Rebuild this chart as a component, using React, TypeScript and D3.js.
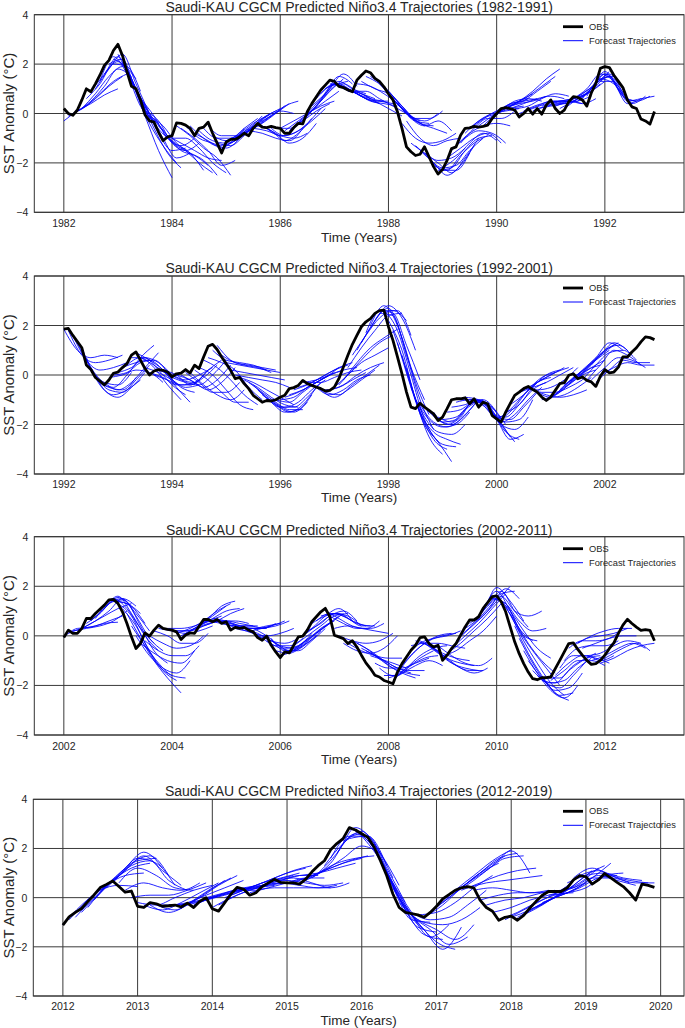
import React from 'react';
import * as d3 from 'd3';

// ---------- DATA ----------
const OBS_1982 = [0.2,0.0,-0.07,0.14,0.55,1.0,0.88,1.2,1.55,1.95,2.15,2.55,2.8,2.35,1.7,1.1,1.0,0.55,-0.05,-0.3,-0.35,-0.75,-1.1,-0.95,
-0.9,-0.38,-0.4,-0.47,-0.6,-0.9,-0.6,-0.55,-0.35,-0.8,-1.2,-1.6,-1.15,-1.05,-1.05,-0.95,-0.8,-0.9,-0.6,-0.4,-0.55,-0.57,-0.52,-0.57,
-0.6,-0.8,-0.8,-0.57,-0.4,-0.42,0.07,0.4,0.68,0.95,1.15,1.35,1.3,1.1,1.05,0.95,0.88,1.35,1.55,1.72,1.65,1.42,1.3,1.08,
0.8,0.55,0.07,-0.6,-1.35,-1.55,-1.7,-1.65,-1.35,-1.75,-2.15,-2.45,-2.27,-1.9,-1.42,-1.35,-0.88,-0.6,-0.58,-0.52,-0.55,-0.52,-0.47,-0.2,
0.0,0.2,0.24,0.2,0.14,-0.14,0.0,0.2,-0.03,0.2,-0.03,0.34,0.55,0.2,0.0,0.14,0.48,0.68,0.65,0.55,0.3,0.84,1.22,1.83,
1.9,1.86,1.55,1.3,1.05,0.55,0.27,0.2,-0.22,-0.3,-0.43,0.08];

const OBS_1992 = [1.85,1.88,1.6,1.35,1.1,0.4,0.22,-0.1,-0.25,-0.4,-0.2,0.07,0.12,0.3,0.46,0.8,0.93,0.6,0.26,0.0,0.16,0.22,0.19,0.12,
-0.08,0.05,0.08,0.22,0.08,0.4,0.26,0.73,1.16,1.24,1.03,0.73,0.46,0.19,-0.15,-0.1,-0.35,-0.55,-0.82,-0.96,-1.1,-1.03,-1.05,-1.0,
-0.9,-0.82,-0.55,-0.51,-0.42,-0.22,-0.35,-0.42,-0.49,-0.55,-0.65,-0.62,-0.49,-0.15,0.32,0.8,1.24,1.6,1.95,2.15,2.28,2.49,2.6,2.62,
1.95,1.4,0.73,0.05,-0.69,-1.3,-1.36,-1.14,-1.3,-1.43,-1.57,-1.84,-1.7,-1.36,-1.0,-0.96,-0.96,-0.92,-1.16,-0.96,-1.3,-1.1,-1.16,-1.64,
-1.77,-1.9,-1.5,-1.16,-0.82,-0.69,-0.55,-0.46,-0.59,-0.69,-0.89,-1.03,-0.89,-0.62,-0.35,-0.31,-0.01,0.05,-0.15,-0.08,-0.22,-0.28,-0.46,-0.05,
0.22,0.09,0.12,0.32,0.73,0.73,0.93,1.1,1.34,1.54,1.51,1.43];

const OBS_2002 = [-0.07,0.23,0.1,0.1,0.3,0.7,0.7,0.9,1.07,1.24,1.45,1.47,1.31,0.97,0.5,-0.04,-0.51,-0.31,0.12,-0.01,0.23,0.43,0.3,0.26,
0.23,0.16,-0.15,0.03,0.12,0.1,0.39,0.66,0.66,0.57,0.66,0.5,0.57,0.23,0.34,0.3,0.34,0.23,0.16,-0.07,-0.18,-0.01,-0.38,-0.65,
-0.88,-0.65,-0.69,-0.38,-0.04,-0.01,0.23,0.57,0.77,0.97,1.11,0.77,0.03,-0.04,-0.11,-0.31,-0.2,-0.45,-0.78,-1.09,-1.32,-1.59,-1.66,-1.8,
-1.86,-1.93,-1.46,-1.12,-0.85,-0.58,-0.38,-0.07,-0.04,-0.31,-0.45,-0.38,-0.99,-0.78,-0.51,-0.31,0.03,0.36,0.64,0.64,0.77,1.11,1.34,1.58,
1.61,1.38,0.97,0.36,-0.24,-0.72,-1.12,-1.46,-1.73,-1.77,-1.69,-1.69,-1.66,-1.32,-0.99,-0.65,-0.31,-0.28,-0.55,-0.78,-0.99,-1.15,-1.12,-0.99,
-0.78,-0.51,-0.28,0.1,0.43,0.67,0.5,0.35,0.22,0.25,0.22,-0.2];

const OBS_2012 = [-1.12,-0.78,-0.6,-0.44,-0.16,0.11,0.41,0.54,0.68,0.45,0.22,0.27,-0.35,-0.4,-0.2,-0.25,-0.35,-0.33,-0.3,-0.38,-0.22,-0.4,-0.15,0.0,
-0.45,-0.55,-0.2,0.15,0.42,0.35,0.1,0.2,0.45,0.6,0.75,0.62,0.6,0.6,0.55,0.75,1.05,1.3,1.5,1.95,2.2,2.4,2.85,2.75,
2.6,2.45,2.05,1.5,0.9,0.15,-0.4,-0.6,-0.65,-0.7,-0.8,-0.6,-0.35,-0.05,0.12,0.3,0.4,0.45,0.4,-0.1,-0.4,-0.55,-0.92,-0.8,
-0.75,-0.92,-0.72,-0.42,-0.15,0.1,0.25,0.25,0.25,0.4,0.72,0.9,0.85,0.55,0.72,0.98,0.8,0.62,0.45,0.2,-0.1,0.55,0.5,0.42];

// forecast trajectories: [launch month index, value at lead 0, 3, 6, 9, 12 months]
const LEADS = [0, 3, 6, 9, 12];

const TRAJ_1982 = [
[0,-0.3,0.1,0.4,0.75,1.0],[1,-0.1,0.2,0.6,1.1,1.5],[2,0.0,0.3,0.8,1.3,1.6],[3,0.1,0.5,1.1,1.8,1.5],
[4,0.2,0.8,1.5,1.9,1.4],[5,0.6,1.2,2.0,1.9,0.9],[6,0.9,1.6,2.3,1.4,0.2],[7,1.0,1.8,2.4,1.2,0.0],
[8,1.3,2.3,1.6,0.3,-0.3],[9,1.6,2.1,1.4,0.1,-0.4],[10,2.0,2.2,0.9,0.0,-0.7],[11,2.2,1.8,0.5,-0.4,-1.0],
[12,2.4,1.3,-0.1,-1.5,-2.6],[13,2.1,0.9,-0.4,-1.3,-2.0],[14,1.8,0.6,-0.6,-1.6,-2.2],[15,1.3,0.3,-0.8,-1.5,-1.4],
[16,1.0,0.0,-1.0,-1.8,-1.6],[17,0.6,-0.1,-1.0,-1.3,-1.0],[18,0.1,-0.3,-1.2,-1.5,-1.2],[19,-0.1,-0.5,-1.2,-1.6,-2.3],
[20,-0.2,-0.9,-1.5,-1.7,-2.1],[21,-0.5,-1.1,-1.5,-2.0,-2.4],[22,-0.8,-1.3,-1.6,-1.9,-2.5],[23,-0.9,-1.2,-1.5,-1.8,-1.9],
[24,-1.0,-1.0,-1.4,-2.0,-2.4],[25,-0.5,-0.9,-1.4,-1.8,-2.5],[26,-0.6,-1.0,-1.5,-2.1,-1.9],[27,-0.5,-1.0,-1.2,-1.4,-1.0],
[28,-0.5,-1.0,-1.3,-1.2,-0.6],[29,-0.8,-1.1,-1.4,-1.0,-0.6],[30,-0.7,-1.1,-1.2,-1.0,-0.5],[31,-0.6,-1.0,-1.0,-0.6,-0.2],
[32,-0.5,-0.9,-0.9,-0.6,-0.1],[33,-0.9,-1.1,-0.8,-0.4,-0.1],[34,-1.2,-1.3,-0.9,-0.4,0.0],[35,-1.4,-1.1,-0.7,-0.2,0.1],
[36,-1.1,-0.9,-0.5,-0.1,0.2],[37,-1.0,-0.8,-0.4,-0.1,0.3],[38,-1.0,-0.7,-0.4,0.0,0.4],[39,-0.9,-0.6,-0.2,0.1,0.0],
[40,-0.8,-0.5,-0.1,0.3,0.5],[41,-0.7,-0.8,-1.0,-1.1,-0.6],[42,-0.6,-0.7,-0.9,-1.0,-0.8],[43,-0.5,-0.7,-1.1,-0.8,-0.2],
[44,-0.5,-0.8,-1.2,-1.0,-0.4],[45,-0.6,-0.9,-0.8,-0.4,0.2],[46,-0.6,-0.9,-0.7,-0.3,0.2],[47,-0.6,-0.6,-0.3,0.1,0.4],
[48,-0.6,-0.3,0.0,0.3,0.5],[49,-0.7,-0.3,0.1,0.5,0.9],[50,-0.7,-0.2,0.3,0.9,1.4],[51,-0.6,-0.1,0.5,1.1,1.3],
[52,-0.4,0.1,0.8,1.5,1.2],[53,-0.3,0.3,1.0,1.6,1.1],[54,0.0,0.6,1.2,1.0,0.7],[55,0.3,0.8,1.3,1.0,0.8],
[56,0.6,1.1,1.2,0.9,0.6],[57,0.8,1.2,1.0,0.8,0.6],[58,1.0,1.2,0.9,0.6,0.4],[59,1.2,1.1,0.8,0.6,0.5],
[60,1.2,1.0,0.7,0.5,0.5],[61,1.1,0.9,0.6,0.5,0.4],[62,1.0,0.8,0.5,0.4,0.3],[63,0.9,0.8,0.5,0.2,-0.1],
[64,0.9,0.9,0.6,0.3,0.0],[65,1.2,1.1,0.8,0.4,-0.2],[66,1.3,1.0,0.8,0.3,-0.3],[67,1.5,1.2,0.7,0.0,-0.3],
[68,1.5,1.1,0.5,-0.1,-0.5],[69,1.4,0.9,0.3,-0.3,-0.4],[70,1.2,0.6,0.0,-0.4,-0.5],[71,1.0,0.4,-0.1,-0.3,0.0],
[72,0.8,0.2,-0.2,-0.2,0.1],[73,0.6,0.0,-0.4,-0.6,-0.8],[74,0.4,-0.2,-0.5,-0.3,-0.7],[75,-0.4,-1.0,-1.2,-1.1,-0.8],
[76,-0.3,-1.0,-1.3,-1.1,-1.0],[77,-1.2,-1.6,-1.9,-1.8,-1.4],[78,-1.3,-1.8,-2.3,-2.3,-1.6],[79,-1.5,-2.0,-2.5,-2.1,-1.3],
[80,-1.6,-2.0,-2.4,-1.8,-1.0],[81,-1.8,-2.2,-2.1,-1.5,-1.0],[82,-2.1,-2.3,-1.7,-1.2,-0.9],[83,-2.3,-2.2,-1.5,-1.0,-0.9],
[84,-2.2,-1.8,-1.2,-0.8,-1.1],[85,-1.8,-1.4,-1.0,-0.8,-1.2],[86,-1.5,-1.0,-0.7,-0.8,-1.2],[87,-1.3,-0.8,-0.5,-0.4,-0.5],
[88,-1.2,-0.6,-0.2,-0.2,0.1],[89,-0.8,-0.3,0.0,0.1,0.2],[90,-0.6,-0.2,0.0,0.2,0.3],[91,-0.5,-0.1,0.2,0.4,0.6],
[92,-0.5,-0.1,0.3,0.5,0.8],[93,-0.5,0.0,0.4,0.5,0.6],[94,-0.4,0.1,0.5,0.6,0.5],[95,-0.2,0.2,0.4,0.5,0.7],
[96,0.0,0.3,0.5,0.9,1.3],[97,0.1,0.4,0.7,1.1,1.5],[98,0.2,0.5,0.9,1.4,1.8],[99,0.2,0.4,0.6,0.7,0.6],
[100,0.2,0.3,0.6,0.8,0.7],[101,0.0,0.2,0.4,0.5,0.6],[102,0.1,0.3,0.5,0.5,0.5],[103,0.2,0.4,0.5,0.5,0.4],
[104,0.1,0.3,0.4,0.6,0.8],[105,0.2,0.3,0.4,0.5,0.7],[106,0.3,0.4,0.5,0.4,0.6],[107,0.4,0.5,0.6,0.8,1.2],
[108,0.5,0.4,0.6,0.9,1.3],[109,0.3,0.5,0.8,1.2,1.7],[110,0.2,0.5,0.8,1.4,1.5],[111,0.2,0.6,1.0,1.6,1.2],
[112,0.5,0.8,1.2,1.6,0.8],[113,0.6,1.0,1.6,1.3,0.6],[114,0.5,1.0,1.7,1.0,0.4],[115,0.6,1.2,1.5,0.7,0.5],
[116,0.7,1.4,1.2,0.4,0.6],[117,0.8,1.6,1.0,0.4,0.7],[118,1.1,1.5,0.7,0.5,0.7],[119,1.3,1.3,0.5,0.6,0.7]];

const TRAJ_1992 = [
[0,1.85,1.0,0.7,0.8,0.7],[1,1.8,0.8,0.5,0.6,0.8],[2,1.6,0.6,0.2,0.3,0.5],[3,1.3,0.3,-0.3,-0.4,0.1],
[4,1.1,-0.1,-0.5,-0.6,-0.1],[5,0.7,-0.4,-0.8,-0.6,-0.2],[6,0.3,-0.6,-0.9,-0.5,0.1],[7,0.0,-0.6,-0.7,-0.2,0.4],
[8,-0.3,-0.5,0.0,0.7,1.2],[9,-0.3,-0.6,-0.3,0.3,0.9],[10,-0.1,0.0,0.2,0.1,-0.3],[11,0.0,0.1,0.5,0.6,0.1],
[12,0.1,0.3,0.7,0.5,0.0],[13,0.3,0.5,0.6,0.2,-0.4],[14,0.4,0.7,0.3,-0.4,-1.0],[15,0.7,0.7,0.2,-0.4,-0.8],
[16,0.9,0.6,0.2,-0.5,-1.1],[17,0.7,0.4,0.0,-0.5,-0.7],[18,0.3,0.1,-0.2,-0.5,-0.4],[19,0.1,-0.1,-0.4,-0.4,0.0],
[20,0.0,-0.2,-0.4,-0.3,0.2],[21,0.2,0.0,-0.2,0.0,0.3],[22,0.2,0.0,-0.4,-0.1,0.4],[23,0.1,-0.2,-0.3,0.2,0.6],
[24,-0.1,-0.3,-0.4,0.0,0.6],[25,0.0,-0.2,-0.5,-0.2,0.4],[26,0.0,-0.3,-0.6,-0.3,0.3],[27,0.1,-0.3,-0.7,-0.7,-0.3],
[28,0.1,-0.4,-0.8,-1.0,-0.6],[29,0.2,-0.2,-0.7,-1.1,-1.1],[30,0.3,0.0,-0.6,-1.2,-1.4],[31,0.6,0.3,-0.2,-0.8,-1.2],
[32,0.7,0.5,0.2,-0.5,-1.0],[33,1.0,0.6,0.5,0.4,0.2],[34,1.2,0.6,0.4,0.3,0.1],[35,0.8,0.5,0.4,0.3,0.2],
[36,0.5,0.4,0.3,0.2,0.1],[37,0.2,0.1,0.0,-0.1,-0.2],[38,0.0,-0.1,-0.2,-0.3,-0.5],[39,-0.1,-0.3,-0.6,-0.9,-1.2],
[40,-0.2,-0.5,-0.9,-1.2,-1.3],[41,-0.3,-0.7,-1.1,-1.4,-1.4],[42,-0.4,-0.9,-1.3,-1.5,-1.1],[43,-0.6,-1.1,-1.5,-1.4,-0.8],
[44,-0.8,-1.2,-1.5,-1.2,-0.5],[45,-0.9,-1.3,-1.3,-0.9,-0.3],[46,-1.0,-1.3,-1.1,-0.6,-0.2],[47,-1.0,-1.1,-0.7,-0.3,0.0],
[48,-1.0,-0.9,-0.5,-0.2,0.1],[49,-0.9,-0.7,-0.4,-0.1,0.3],[50,-0.8,-0.6,-0.3,0.0,0.2],[51,-0.6,-0.4,-0.1,0.2,0.4],
[52,-0.5,-0.3,0.0,0.3,0.5],[53,-0.3,-0.2,0.0,0.2,0.3],[54,-0.3,-0.3,-0.1,0.1,0.2],[55,-0.4,-0.6,-0.5,-0.2,0.1],
[56,-0.5,-0.8,-0.6,-0.2,0.0],[57,-0.6,-0.9,-0.6,-0.2,0.2],[58,-0.7,-0.8,-0.4,0.0,0.4],[59,-0.6,-0.4,0.0,0.3,0.5],
[60,-0.5,0.0,0.5,0.8,1.1],[61,-0.4,0.2,0.8,1.3,1.6],[62,-0.2,0.5,1.1,1.5,1.85],[63,0.3,1.1,1.8,2.4,2.5],
[64,0.8,1.6,2.3,2.6,2.2],[65,1.0,1.9,2.6,2.6,1.6],[66,1.3,2.2,2.8,2.3,1.0],[67,1.7,2.6,2.5,1.2,-0.2],
[68,2.0,2.8,2.0,0.3,-1.0],[69,2.2,2.7,1.5,-0.3,-1.6],[70,2.5,2.4,0.8,-1.0,-2.2],[71,2.6,1.8,0.0,-1.8,-2.7],
[72,2.2,1.0,-1.0,-2.5,-3.2],[73,1.8,0.2,-1.5,-2.6,-3.0],[74,1.3,-0.5,-2.0,-2.7,-3.5],[75,0.8,-1.0,-2.2,-2.8,-2.9],
[76,0.3,-1.5,-2.3,-2.6,-2.8],[77,-0.5,-1.7,-2.3,-2.4,-2.0],[78,-1.0,-1.8,-2.1,-2.0,-1.5],[79,-1.2,-1.9,-2.1,-1.8,-1.2],
[80,-1.3,-1.8,-2.0,-1.6,-1.0],[81,-1.4,-1.9,-1.8,-1.2,-1.0],[82,-1.5,-2.0,-1.7,-1.0,-1.2],[83,-1.7,-1.9,-1.4,-1.1,-1.4],
[84,-1.8,-1.7,-1.2,-1.0,-1.5],[85,-1.5,-1.4,-1.1,-1.2,-1.8],[86,-1.3,-1.2,-1.0,-1.3,-2.0],[87,-1.1,-1.0,-1.1,-1.7,-2.5],
[88,-1.0,-1.0,-1.2,-2.0,-2.7],[89,-0.9,-1.0,-1.5,-2.3,-2.6],[90,-1.0,-1.1,-1.8,-2.6,-2.4],[91,-1.0,-1.3,-2.0,-2.2,-1.7],
[92,-1.1,-1.5,-1.9,-1.8,-1.0],[93,-1.2,-1.7,-1.8,-1.3,-0.7],[94,-1.4,-1.9,-1.6,-1.0,-0.5],[95,-1.6,-1.7,-1.2,-0.6,-0.3],
[96,-1.8,-1.4,-0.8,-0.3,-0.1],[97,-1.8,-1.3,-0.6,-0.1,0.1],[98,-1.5,-1.2,-0.5,0.0,0.2],[99,-1.2,-0.8,-0.3,0.0,0.3],
[100,-0.8,-0.5,-0.2,0.1,0.3],[101,-0.7,-0.5,-0.3,0.0,0.3],[102,-0.5,-0.6,-0.5,-0.2,0.3],[103,-0.5,-0.7,-0.7,-0.5,-0.2],
[104,-0.6,-0.8,-0.9,-0.8,-0.6],[105,-0.7,-0.9,-0.8,-0.5,-0.1],[106,-1.0,-0.8,-0.4,0.0,0.2],[107,-1.0,-0.7,-0.2,0.2,0.4],
[108,-0.9,-0.5,-0.1,0.3,0.6],[109,-0.8,-0.3,0.1,0.6,1.0],[110,-0.6,-0.1,0.3,0.8,1.2],[111,-0.4,0.0,0.5,1.0,1.3],
[112,-0.3,0.2,0.7,1.3,1.0],[113,-0.1,0.3,0.8,1.3,1.0],[114,-0.1,0.4,1.0,1.2,0.8],[115,-0.2,0.4,0.9,1.0,0.6],
[116,-0.2,0.4,1.0,0.8,0.4],[117,-0.2,0.3,0.7,0.6,0.3],[118,-0.3,0.2,0.6,0.5,0.5],[119,0.0,0.3,0.5,0.4,0.4]];

const TRAJ_2002 = [
[0,-0.05,0.3,0.35,0.5,0.55],[1,0.1,0.3,0.4,0.6,0.8],[2,0.2,0.3,0.4,0.6,1.0],[3,0.2,0.5,0.8,1.1,1.3],
[4,0.3,0.6,1.0,1.5,1.2],[5,0.5,0.9,1.4,1.3,0.9],[6,0.6,1.1,1.55,1.2,0.5],[7,0.7,1.3,1.45,0.9,0.2],
[8,1.0,1.5,1.1,0.3,-0.3],[9,1.1,1.6,0.9,0.0,-0.6],[10,1.4,1.5,0.8,-0.1,-0.6],[11,1.4,1.3,0.4,-0.6,-1.1],
[12,1.3,0.8,-0.3,-1.2,-1.6],[13,1.1,0.4,-0.6,-1.4,-1.8],[14,0.9,-0.1,-1.0,-1.7,-2.3],[15,0.4,-0.4,-1.1,-1.6,-1.7],
[16,0.0,-0.8,-1.3,-1.5,-1.0],[17,-0.3,-0.7,-1.0,-1.1,-0.6],[18,-0.2,-0.6,-0.8,-0.8,-0.4],[19,0.0,-0.3,-0.5,-0.4,0.0],
[20,0.2,0.0,-0.3,-0.3,0.1],[21,0.3,0.2,0.1,0.2,0.4],[22,0.3,0.2,0.2,0.4,0.6],[23,0.3,0.3,0.4,0.6,0.8],
[24,0.2,0.2,0.4,0.8,1.2],[25,0.1,0.3,0.6,1.0,1.3],[26,0.0,0.3,0.7,1.2,1.4],[27,0.1,0.4,0.7,1.0,1.1],
[28,0.2,0.4,0.6,0.9,1.1],[29,0.3,0.5,0.6,0.6,0.5],[30,0.4,0.6,0.6,0.5,0.4],[31,0.6,0.6,0.5,0.4,0.4],
[32,0.6,0.5,0.4,0.4,0.3],[33,0.7,0.6,0.4,0.3,0.3],[34,0.6,0.5,0.3,0.3,0.4],[35,0.5,0.4,0.3,0.3,0.5],
[36,0.5,0.3,0.3,0.4,0.5],[37,0.3,0.3,0.3,0.4,0.6],[38,0.3,0.2,0.3,0.4,0.6],[39,0.3,0.1,0.0,0.1,0.3],
[40,0.3,0.1,-0.2,-0.3,-0.1],[41,0.2,-0.1,-0.4,-0.4,-0.1],[42,0.3,0.0,-0.4,-0.5,-0.1],[43,0.0,-0.2,-0.5,-0.4,0.1],
[44,0.0,-0.3,-0.6,-0.4,0.0],[45,-0.2,-0.5,-0.6,-0.3,0.2],[46,-0.1,-0.6,-0.6,-0.2,0.3],[47,-0.6,-0.7,-0.4,0.1,0.5],
[48,-0.8,-0.6,-0.2,0.3,0.6],[49,-0.7,-0.4,0.0,0.4,0.8],[50,-0.7,-0.3,0.1,0.5,0.9],[51,-0.4,0.0,0.4,0.8,0.9],
[52,-0.1,0.3,0.8,1.1,0.6],[53,0.0,0.4,0.8,1.0,0.6],[54,0.2,0.5,0.9,0.8,0.4],[55,0.5,0.8,0.9,0.6,0.4],
[56,0.6,0.9,0.8,0.5,0.4],[57,0.8,0.9,0.7,0.4,0.4],[58,1.0,0.7,0.4,0.3,0.6],[59,0.8,0.5,0.3,0.3,0.5],
[60,0.3,0.4,0.3,0.2,0.1],[61,0.0,-0.2,-0.3,-0.2,0.1],[62,-0.3,-0.6,-0.7,-0.5,0.0],[63,-0.3,-0.6,-0.8,-0.9,-0.9],
[64,-0.2,-0.5,-0.9,-1.1,-1.3],[65,-0.3,-0.6,-1.0,-1.3,-1.5],[66,-0.5,-0.8,-1.2,-1.5,-1.7],[67,-0.6,-0.9,-1.3,-1.5,-1.6],
[68,-0.8,-1.0,-1.3,-1.4,-1.4],[69,-1.1,-1.3,-1.3,-1.1,-0.9],[70,-1.3,-1.6,-1.3,-0.9,-0.6],[71,-1.6,-1.6,-1.2,-0.9,-0.8],
[72,-1.7,-1.5,-1.2,-1.0,-1.2],[73,-1.8,-1.3,-0.8,-0.5,-0.4],[74,-1.5,-0.8,-0.3,0.0,0.1],[75,-1.2,-0.6,-0.2,0.0,0.1],
[76,-0.8,-0.3,-0.1,0.0,0.2],[77,-0.4,-0.3,-0.3,-0.4,-0.5],[78,-0.2,-0.4,-0.7,-0.9,-1.0],[79,-0.2,-0.5,-0.9,-1.1,-1.2],
[80,-0.3,-0.7,-1.1,-1.3,-1.4],[81,-0.4,-0.8,-1.2,-1.4,-1.4],[82,-0.5,-0.9,-1.3,-1.5,-1.3],[83,-0.4,-0.8,-1.1,-1.2,-0.9],
[84,-0.8,-0.6,-0.2,0.2,0.8],[85,-0.7,-0.3,0.2,0.7,1.3],[86,-0.5,0.0,0.5,1.1,1.7],[87,-0.2,0.3,0.8,1.4,2.0],
[88,0.0,0.5,1.0,1.7,1.8],[89,0.3,0.7,1.3,1.9,1.5],[90,0.5,1.0,1.95,1.4,0.6],[91,0.6,1.2,1.8,1.0,0.35],
[92,0.8,1.5,1.3,0.3,-0.2],[93,1.0,1.8,1.0,0.0,-0.2],[94,1.2,1.6,1.0,0.8,1.0],[95,1.5,1.3,0.6,0.2,0.3],
[96,1.6,1.0,0.2,-0.5,-0.9],[97,1.4,0.6,-0.3,-1.0,-1.5],[98,1.2,0.2,-0.6,-1.3,-2.0],[99,0.9,-0.2,-1.1,-1.9,-2.4],
[100,0.4,-0.7,-1.6,-2.3,-2.6],[101,-0.1,-1.1,-1.9,-2.4,-2.3],[102,-0.6,-1.5,-2.2,-2.5,-2.0],[103,-1.0,-1.7,-2.2,-2.1,-1.5],
[104,-1.4,-1.9,-2.1,-1.6,-1.0],[105,-1.6,-1.9,-1.8,-1.3,-0.9],[106,-1.8,-1.9,-1.4,-1.0,-0.7],[107,-1.7,-1.7,-1.2,-0.9,-0.8],
[108,-1.8,-1.4,-1.0,-1.0,-1.2],[109,-1.6,-1.1,-0.8,-0.9,-1.1],[110,-1.3,-0.8,-0.8,-1.0,-0.8],[111,-1.0,-0.5,-0.4,-0.4,-0.2],
[112,-0.5,-0.2,-0.2,-0.1,0.3],[113,-0.4,-0.1,0.0,0.1,0.3],[114,-0.3,0.0,0.2,0.3,0.3],[115,-0.5,-0.3,-0.1,0.0,0.0],
[116,-0.8,-0.7,-0.4,-0.2,-0.3],[117,-1.0,-0.8,-0.5,-0.3,-0.5],[118,-1.1,-0.8,-0.5,-0.3,-0.6],[119,-1.1,-0.9,-0.6,-0.4,-0.3]];

const TRAJ_2012 = [
[0,-1.1,-0.3,0.3,0.5,0.45],[1,-0.9,-0.1,0.5,0.9,1.0],[2,-0.8,0.0,0.7,1.2,1.4],[3,-0.6,0.2,0.9,1.5,1.6],
[4,-0.4,0.5,1.2,1.85,1.2],[5,-0.1,0.7,1.4,1.7,0.9],[6,0.3,0.9,1.6,1.4,0.5],[7,0.4,1.1,1.7,1.1,0.5],
[8,0.6,1.3,1.5,0.7,0.3],[9,0.6,1.2,0.9,0.4,0.3],[10,0.3,0.6,0.4,0.3,0.6],[11,0.0,0.1,0.1,0.3,0.6],
[12,-0.2,-0.3,0.0,0.3,0.5],[13,-0.3,-0.5,-0.2,0.2,0.6],[14,-0.3,-0.6,-0.3,0.2,0.7],[15,-0.3,-0.5,-0.1,0.4,0.8],
[16,-0.3,-0.3,0.0,0.5,0.9],[17,-0.3,-0.2,0.1,0.4,0.7],[18,-0.3,-0.2,0.0,0.2,0.4],[19,-0.3,-0.1,0.1,0.3,0.3],
[20,-0.3,-0.1,0.1,0.3,0.4],[21,-0.3,0.0,0.2,0.4,0.5],[22,-0.2,0.1,0.3,0.4,0.5],[23,0.0,0.2,0.4,0.5,0.6],
[24,-0.4,0.0,0.3,0.5,0.6],[25,-0.3,0.1,0.4,0.7,0.9],[26,0.0,0.3,0.6,0.8,1.0],[27,0.1,0.4,0.7,1.0,1.2],
[28,0.3,0.5,0.8,1.1,1.3],[29,0.3,0.5,0.7,0.9,0.9],[30,0.2,0.4,0.6,0.8,0.8],[31,0.3,0.4,0.4,0.4,0.4],
[32,0.5,0.6,0.5,0.4,0.5],[33,0.6,0.7,0.6,0.5,0.6],[34,0.7,0.8,0.6,0.4,0.6],[35,0.7,0.9,1.0,1.2,1.4],
[36,0.6,0.8,1.1,1.4,1.6],[37,0.6,0.9,1.2,1.5,1.7],[38,0.6,1.0,1.4,1.6,1.7],[39,0.7,1.1,1.6,2.1,1.8],
[40,0.8,1.4,2.4,2.5,1.3],[41,1.0,1.8,2.85,2.2,0.8],[42,1.3,2.2,2.7,1.8,0.5],[43,1.6,2.5,2.5,1.2,-0.2],
[44,1.8,2.6,2.0,0.6,-0.6],[45,2.3,2.6,1.5,0.0,-1.0],[46,2.8,2.4,1.0,-0.5,-1.3],[47,2.7,2.0,0.4,-0.9,-1.0],
[48,2.5,1.5,0.0,-1.2,-1.4],[49,2.4,1.0,-0.5,-1.5,-1.7],[50,2.2,0.6,-0.7,-1.6,-1.1],[51,1.6,0.1,-1.0,-1.8,-2.1],
[52,1.0,-0.4,-1.3,-2.1,-1.2],[53,0.4,-0.7,-1.3,-1.9,-1.6],[54,-0.2,-0.9,-1.3,-1.7,-1.1],[55,-0.5,-1.0,-1.1,-0.9,-0.4],
[56,-0.6,-0.9,-0.8,-0.3,0.3],[57,-0.7,-0.6,-0.2,0.4,0.9],[58,-0.8,-0.3,0.4,1.0,1.4],[59,-0.6,0.0,0.6,1.2,1.7],
[60,-0.4,0.3,0.9,1.5,1.95],[61,-0.2,0.4,1.0,1.6,1.8],[62,0.1,0.6,1.1,1.6,1.7],[63,0.2,0.7,1.3,1.9,1.0],
[64,0.3,0.6,0.9,1.1,1.2],[65,0.4,0.6,0.7,0.8,0.9],[66,0.3,0.4,0.3,0.2,0.3],[67,-0.1,0.1,0.2,0.2,0.3],
[68,-0.3,-0.1,0.0,0.2,0.3],[69,-0.6,-0.4,-0.1,0.1,0.3],[70,-0.9,-0.6,-0.2,0.1,0.2],[71,-0.9,-0.5,-0.1,0.3,0.9],
[72,-0.8,-0.5,-0.1,0.2,0.6],[73,-0.8,-0.4,0.0,0.5,1.1],[74,-0.7,-0.3,0.2,0.6,1.2],[75,-0.5,-0.1,0.3,0.9,1.3],
[76,-0.4,0.0,0.3,0.8,1.4],[77,-0.2,0.1,0.4,0.8,0.9],[78,0.1,0.2,0.4,0.9,1.0],[79,0.2,0.4,0.8,0.8,0.6],
[80,0.3,0.5,0.9,0.7,0.5],[81,0.6,0.9,1.0,0.8,0.7],[82,0.8,1.2,0.9,0.7,0.6],[83,0.9,1.1,0.8,0.6,0.6]];

const Y_TICKS = [-4, -2, 0, 2, 4];
const X_TICKS_1982 = [1982, 1984, 1986, 1988, 1990, 1992];
const X_TICKS_1992 = [1992, 1994, 1996, 1998, 2000, 2002];
const X_TICKS_2002 = [2002, 2004, 2006, 2008, 2010, 2012];
const X_TICKS_2012 = [2012, 2013, 2014, 2015, 2016, 2017, 2018, 2019, 2020];

const PANELS = [
  { title: 'Saudi-KAU CGCM Predicted Niño3.4 Trajectories (1982-1991)', start: 1982, obs: OBS_1982, traj: TRAJ_1982, ticks: X_TICKS_1982,
    top: 14.7, bottom: 212.3, left: 34.3, titleY: 7, tickY: 222.5, labelY: 237.5 },
  { title: 'Saudi-KAU CGCM Predicted Niño3.4 Trajectories (1992-2001)', start: 1992, obs: OBS_1992, traj: TRAJ_1992, ticks: X_TICKS_1992,
    top: 276, bottom: 474, left: 34.3, titleY: 267.5, tickY: 483.5, labelY: 497.5 },
  { title: 'Saudi-KAU CGCM Predicted Niño3.4 Trajectories (2002-2011)', start: 2002, obs: OBS_2002, traj: TRAJ_2002, ticks: X_TICKS_2002,
    top: 536.7, bottom: 735, left: 34.3, titleY: 529.5, tickY: 745.5, labelY: 759.5 },
  { title: 'Saudi-KAU CGCM Predicted Niño3.4 Trajectories (2012-2019)', start: 2012, obs: OBS_2012, traj: TRAJ_2012, ticks: X_TICKS_2012,
    top: 799.3, bottom: 996, left: 33.3, titleY: 790.5, tickY: 1005.5, labelY: 1020.5 },
];

const RIGHT = 684;
const FONT = "'Liberation Sans', Arial, Helvetica, sans-serif";
const TEXT = '#262626';
const GRID = '#3a3a3a';

function Panel({ p }: { p: any }) {
  const n = p.obs.length;
  const t0 = p.start;
  const t1 = p.start + (n - 1) / 12;
  const pad = (t1 - t0) * 0.05;
  const x = d3.scaleLinear().domain([t0 - pad, t1 + pad]).range([p.left, RIGHT]);
  const y = d3.scaleLinear().domain([-4, 4]).range([p.bottom, p.top]);

  const obsLine = d3.line<number>()
    .x((_, i) => x(t0 + i / 12))
    .y((d) => y(d));

  const trajLine = d3.line<[number, number]>()
    .x((d) => x(d[0]))
    .y((d) => y(d[1]))
    .curve(d3.curveMonotoneX);

  const midY = (p.top + p.bottom) / 2;
  const midX = (p.left + RIGHT) / 2;

  return (
    <g>
      <text x={midX} y={p.titleY} textAnchor="middle" dominantBaseline="central" fontSize={14} fill={TEXT}>{p.title}</text>
      {Y_TICKS.map((v) => (
        <line key={'gy' + v} x1={p.left} x2={RIGHT} y1={y(v)} y2={y(v)} stroke={GRID} strokeWidth={1} />
      ))}
      {p.ticks.map((v: number) => (
        <line key={'gx' + v} x1={x(v)} x2={x(v)} y1={p.top} y2={p.bottom} stroke={GRID} strokeWidth={1} />
      ))}
      {p.traj.map((row: number[], k: number) => {
        const launch = row[0];
        const pts: [number, number][] = LEADS.map((l, j) => [t0 + (launch + l) / 12, row[j + 1]]);
        return <path key={'t' + k} d={trajLine(pts) || ''} fill="none" stroke="#0000ff" strokeWidth={1} strokeOpacity={0.85} />;
      })}
      <path d={obsLine(p.obs) || ''} fill="none" stroke="#000" strokeWidth={2.8} strokeLinejoin="round" />
      <rect x={p.left} y={p.top} width={RIGHT - p.left} height={p.bottom - p.top} fill="none" stroke="#333" strokeWidth={1} />
      {Y_TICKS.map((v) => (
        <text key={'ly' + v} x={p.left - 6} y={y(v)} textAnchor="end" dominantBaseline="central" fontSize={10.5} fill={TEXT}>
          {v < 0 ? '\u2212' + Math.abs(v) : v}
        </text>
      ))}
      {p.ticks.map((v: number) => (
        <text key={'lx' + v} x={x(v)} y={p.tickY} textAnchor="middle" dominantBaseline="central" fontSize={10.5} fill={TEXT}>{v}</text>
      ))}
      <text x={midX} y={p.labelY} textAnchor="middle" dominantBaseline="central" fontSize={13.5} fill={TEXT}>Time (Years)</text>
      <text transform={`translate(${8},${midY}) rotate(-90)`} textAnchor="middle" dominantBaseline="central" fontSize={15} fill={TEXT}>SST Anomaly (°C)</text>
      <line x1={RIGHT - 121} x2={RIGHT - 101} y1={p.top + 12} y2={p.top + 12} stroke="#000" strokeWidth={2.8} />
      <text x={RIGHT - 95} y={p.top + 12} dominantBaseline="central" fontSize={9.3} fill={TEXT}>OBS</text>
      <line x1={RIGHT - 121} x2={RIGHT - 101} y1={p.top + 26} y2={p.top + 26} stroke="#0000ff" strokeWidth={1} />
      <text x={RIGHT - 95} y={p.top + 26} dominantBaseline="central" fontSize={9.3} fill={TEXT}>Forecast Trajectories</text>
    </g>
  );
}

export default function App() {
  return (
    <svg width={685} height={1028} style={{ position: 'absolute', left: 0, top: 0, background: '#fff' }} fontFamily={FONT}>
      <rect x={0} y={0} width={685} height={1028} fill="#fff" />
      {PANELS.map((p, i) => <Panel key={i} p={p} />)}
    </svg>
  );
}
